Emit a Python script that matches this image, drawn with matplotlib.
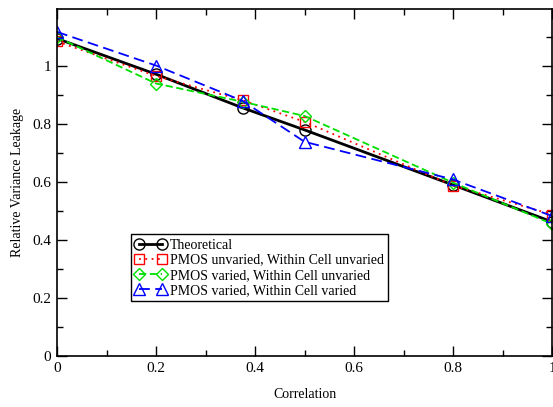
import matplotlib
matplotlib.use('Agg')
import matplotlib.pyplot as plt
from matplotlib.ticker import MultipleLocator, FuncFormatter

# data
correlation = [0.0, 0.2, 0.375, 0.5, 0.8, 1.0]
theoretical = [1.095, 0.972, 0.856, 0.780, 0.590, 0.463]
pmos_unv_cell_unv = [1.085, 0.966, 0.882, 0.808, 0.588, 0.488]
pmos_var_cell_unv = [1.100, 0.940, 0.877, 0.828, 0.598, 0.456]
pmos_var_cell_var = [1.118, 1.002, 0.880, 0.739, 0.609, 0.483]
labels = ['Theoretical',
          'PMOS unvaried, Within Cell unvaried',
          'PMOS varied, Within Cell unvaried',
          'PMOS varied, Within Cell varied']

plt.rcParams['font.family'] = ['Liberation Serif', 'DejaVu Serif']

fig = plt.figure(figsize=(5.53, 4.07), dpi=100)
ax = fig.add_axes([57 / 553, 1 - 356 / 407, 495 / 553, 347 / 407])

ax.plot(correlation, theoretical, color='black', lw=2.0, ls='-',
        marker='o', ms=8, mfc='none', mec='black', mew=1.0, label=labels[0])
ax.plot(correlation, pmos_unv_cell_unv, color='red', lw=1.3, ls=(0, (1, 2.5)),
        marker='s', ms=7, mfc='none', mec='red', mew=1.0, label=labels[1])
ax.plot(correlation, pmos_var_cell_unv, color='#00e000', lw=1.3, ls=(0, (4, 2)),
        marker='D', ms=6.5, mfc='none', mec='#00e000', mew=1.0, label=labels[2])
ax.plot(correlation, pmos_var_cell_var, color='blue', lw=1.3, ls=(0, (6, 3)),
        marker='^', ms=8, mfc='none', mec='blue', mew=1.0, label=labels[3])

ax.set_xlim(0, 1)
ax.set_ylim(0, 1.197)
ax.xaxis.set_major_locator(MultipleLocator(0.2))
ax.xaxis.set_minor_locator(MultipleLocator(0.1))
ax.yaxis.set_major_locator(MultipleLocator(0.2))
ax.yaxis.set_minor_locator(MultipleLocator(0.1))
ax.xaxis.set_major_formatter(FuncFormatter(lambda v, _: '%g' % round(v, 2)))
ax.yaxis.set_major_formatter(FuncFormatter(lambda v, _: '%g' % round(v, 2)))
ax.tick_params(which='both', direction='in', top=True, right=True, labelsize=11, width=1.0)
ax.tick_params(which='major', length=7, pad=4)
ax.tick_params(which='minor', length=4)
for s in ax.spines.values():
    s.set_linewidth(1.2)

ax.set_xlabel('Correlation', fontsize=10, labelpad=10)
ax.set_ylabel('Relative Variance Leakage', fontsize=10, labelpad=6)

leg = ax.legend(loc='lower left', bbox_to_anchor=(74 / 495, 55 / 347), fontsize=10,
                numpoints=2, handlelength=2.2, handletextpad=0.3, borderpad=0.3,
                labelspacing=0.15, fancybox=False, framealpha=1, edgecolor='black',
                borderaxespad=0)
leg.get_frame().set_linewidth(1.0)

fig.savefig('out.png', dpi=100)
